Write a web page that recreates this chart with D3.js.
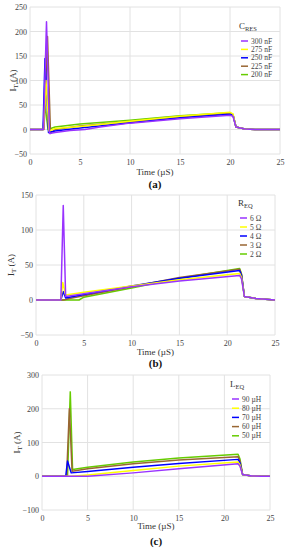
<!DOCTYPE html>
<html><head><meta charset="utf-8">
<script src="https://cdn.jsdelivr.net/npm/d3@7"></script>
<style>body{margin:0;background:#fff}svg{display:block}svg text{font-family:"Liberation Serif","DejaVu Serif",serif !important}</style>
</head><body>
<script>
// ---------- DATA ----------
const xTicks = [0,5,10,15,20,25];
// Panel (a)  C_RES
const aLabels = ["300 nF","275 nF","250 nF","225 nF","200 nF"];
const aYTicks = [-50,0,50,100,150,200,250];
const a300 = [[0,0],[1.35,0],[1.65,220],[1.95,-8],[2.5,-6],[4,-2],[5.5,0],[7,5],[10,13],[15,22],[20,29],[20.3,27],[20.6,5],[21.5,1],[22.5,0],[25,0]];
const a275 = [[0,0],[1.35,0],[1.6,100],[1.9,-3],[2.5,2],[5,6],[7,10],[10,17],[15,27],[20,35],[20.3,32],[20.6,5],[21.5,1],[22.5,0],[25,0]];
const a250 = [[0,0],[1.3,0],[1.5,145],[1.85,-6],[2.5,-3],[5,3],[10,14],[15,24],[20,31],[20.3,29],[20.6,5],[21.5,1],[22.5,0],[25,0]];
const a225 = [[0,0],[1.4,0],[1.75,190],[2.05,-8],[2.5,0],[5,7],[10,16],[15,26],[20,33],[20.3,30],[20.6,5],[21.5,1],[22.5,0],[25,0]];
const a200 = [[0,0],[1.3,0],[1.5,50],[1.8,0],[2.5,5],[5,11],[10,19],[15,28],[20,34],[20.3,31],[20.6,5],[21.5,1],[22.5,0],[25,0]];
// Panel (b)  R_EQ
const bLabels = ["6 \u03A9","5 \u03A9","4 \u03A9","3 \u03A9","2 \u03A9"];
const bYTicks = [-50,0,50,100,150];
const b6 = [[0,0],[2.6,0],[2.85,135],[3.1,5],[5,9],[10,19],[15,27],[21.3,35],[21.5,30],[21.8,5],[23,2],[25,0]];
const b5 = [[0,0],[2.6,0],[2.8,25],[3.1,7],[5,11],[10,20],[15,29],[21.3,38],[21.5,32],[21.8,5],[23,2],[25,0]];
const b4 = [[0,0],[2.6,0],[2.85,12],[3.1,3],[5,8],[10,20],[15,31],[21.3,42],[21.5,35],[21.8,5],[23,2],[25,0]];
const b3 = [[0,0],[2.9,0],[3.5,2],[5,6],[10,19],[15,32],[21.3,44],[21.5,36],[21.8,5],[23,2],[25,0]];
const b2 = [[0,0],[3,0],[4.5,0],[5,4],[10,17],[15,31],[21.3,45],[21.5,37],[21.8,5],[23,2],[25,0]];
// Panel (c)  L_EQ
const cLabels = ["90 \u00B5H","80 \u00B5H","70 \u00B5H","60 \u00B5H","50 \u00B5H"];
const cYTicks = [-100,0,100,200,300];
const c90 = [[0,0],[2.7,0],[5,0],[10,10],[15,22],[21.5,37],[21.7,30],[22,5],[23,1],[24,0],[25,0]];
const c80 = [[0,0],[2.8,0],[3.2,0],[5,4],[10,17],[15,30],[21.5,42],[21.7,34],[22,5],[23,1],[24,0],[25,0]];
const c70 = [[0,0],[2.6,0],[2.8,45],[3.2,10],[5,14],[10,27],[15,38],[21.5,50],[21.7,40],[22,5],[23,1],[24,0],[25,0]];
const c60 = [[0,0],[2.7,0],[3.0,200],[3.3,15],[5,22],[10,37],[15,48],[21.5,58],[21.7,46],[22,5],[23,1],[24,0],[25,0]];
const c50 = [[0,0],[2.8,0],[3.1,250],[3.35,20],[5,27],[10,42],[15,54],[21.5,65],[21.7,52],[22,5],[23,1],[24,0],[25,0]];

const colors = ["#9933ff","#ffff00","#0000ff","#996633","#66cc00"];

// ---------- DRAW ----------
const svg = d3.select("body").append("svg").attr("width",287).attr("height",550);

function panel(cfg){
  const x = d3.scaleLinear().domain([0,25]).range([cfg.l,cfg.r]);
  const y = d3.scaleLinear().domain(cfg.yd).range([cfg.b,cfg.t]);
  const g = svg.append("g");
  g.append("g").selectAll("line").data(cfg.yt).join("line")
    .attr("x1",cfg.l).attr("x2",cfg.r).attr("y1",d=>y(d)).attr("y2",d=>y(d))
    .attr("stroke","#e2e2e2").attr("stroke-width",1);
  g.append("g").selectAll("line").data(xTicks).join("line")
    .attr("x1",d=>x(d)).attr("x2",d=>x(d)).attr("y1",cfg.t).attr("y2",cfg.b)
    .attr("stroke","#e2e2e2").attr("stroke-width",1);
  const ax = g.append("g").attr("transform",`translate(0,${cfg.b})`)
    .call(d3.axisBottom(x).tickValues(xTicks).tickSize(0).tickPadding(cfg.xpad));
  const ay = g.append("g").attr("transform",`translate(${cfg.l},0)`)
    .call(d3.axisLeft(y).tickValues(cfg.yt).tickSize(0).tickPadding(3));
  [ax,ay].forEach(a=>{a.select(".domain").remove();
    a.selectAll("text").attr("font-size",8).attr("fill","#444");});
  const line = d3.line().x(d=>x(d[0])).y(d=>y(d[1]));
  [4,3,2,1,0].forEach(i=>{
    g.append("path").datum(cfg.series[i]).attr("d",line)
      .attr("fill","none").attr("stroke",colors[i]).attr("stroke-width",1.5)
      .attr("stroke-linejoin","round");
  });
  g.append("text").attr("x",(cfg.l+cfg.r)/2).attr("y",cfg.xl).attr("text-anchor","middle")
    .attr("font-size",9).attr("fill","#333").text("Time (\u00B5S)");
  const yl = g.append("text").attr("transform",`translate(${cfg.yx},${(cfg.t+cfg.b)/2}) rotate(-90)`)
    .attr("text-anchor","middle").attr("font-size",9).attr("fill","#333");
  yl.append("tspan").text("I");
  yl.append("tspan").attr("font-size",7).attr("dy",2).text("T");
  yl.append("tspan").attr("dy",-2).text(" (A)");
  g.append("text").attr("x",(cfg.l+cfg.r)/2).attr("y",cfg.cap).attr("text-anchor","middle")
    .attr("font-size",11).attr("font-weight","bold").attr("fill","#111").text(cfg.caption);
  const lt = g.append("text").attr("x",cfg.lgx-2).attr("y",cfg.lgy).attr("font-size",9).attr("fill","#333");
  lt.append("tspan").text(cfg.sym);
  lt.append("tspan").attr("font-size",6.5).attr("dy",2).text(cfg.sub);
  cfg.labels.forEach((lab,i)=>{
    const yy = cfg.lgy + 12 + i*cfg.lgs;
    g.append("line").attr("x1",cfg.lgx).attr("x2",cfg.lgx+7).attr("y1",yy).attr("y2",yy)
      .attr("stroke",colors[i]).attr("stroke-width",1.5);
    g.append("text").attr("x",cfg.lgx+10).attr("y",yy+2.5).attr("font-size",7.5).attr("fill","#444").text(lab);
  });
}

panel({l:30,r:280,t:7,b:154,yd:[-50,250],yt:aYTicks,xpad:5,xl:175,yx:16,cap:188,caption:"(a)",
  series:[a300,a275,a250,a225,a200],labels:aLabels,sym:"C",sub:"RES",lgx:241,lgy:29,lgs:8.4});
panel({l:36,r:275,t:195,b:335,yd:[-50,150],yt:bYTicks,xpad:5,xl:355,yx:14,cap:367,caption:"(b)",
  series:[b6,b5,b4,b3,b2],labels:bLabels,sym:"R",sub:"EQ",lgx:240,lgy:206,lgs:9});
panel({l:42,r:270,t:375,b:510,yd:[-100,300],yt:cYTicks,xpad:5,xl:529,yx:20,cap:545,caption:"(c)",
  series:[c90,c80,c70,c60,c50],labels:cLabels,sym:"L",sub:"EQ",lgx:232,lgy:387,lgs:9.2});
</script>
</body></html>
